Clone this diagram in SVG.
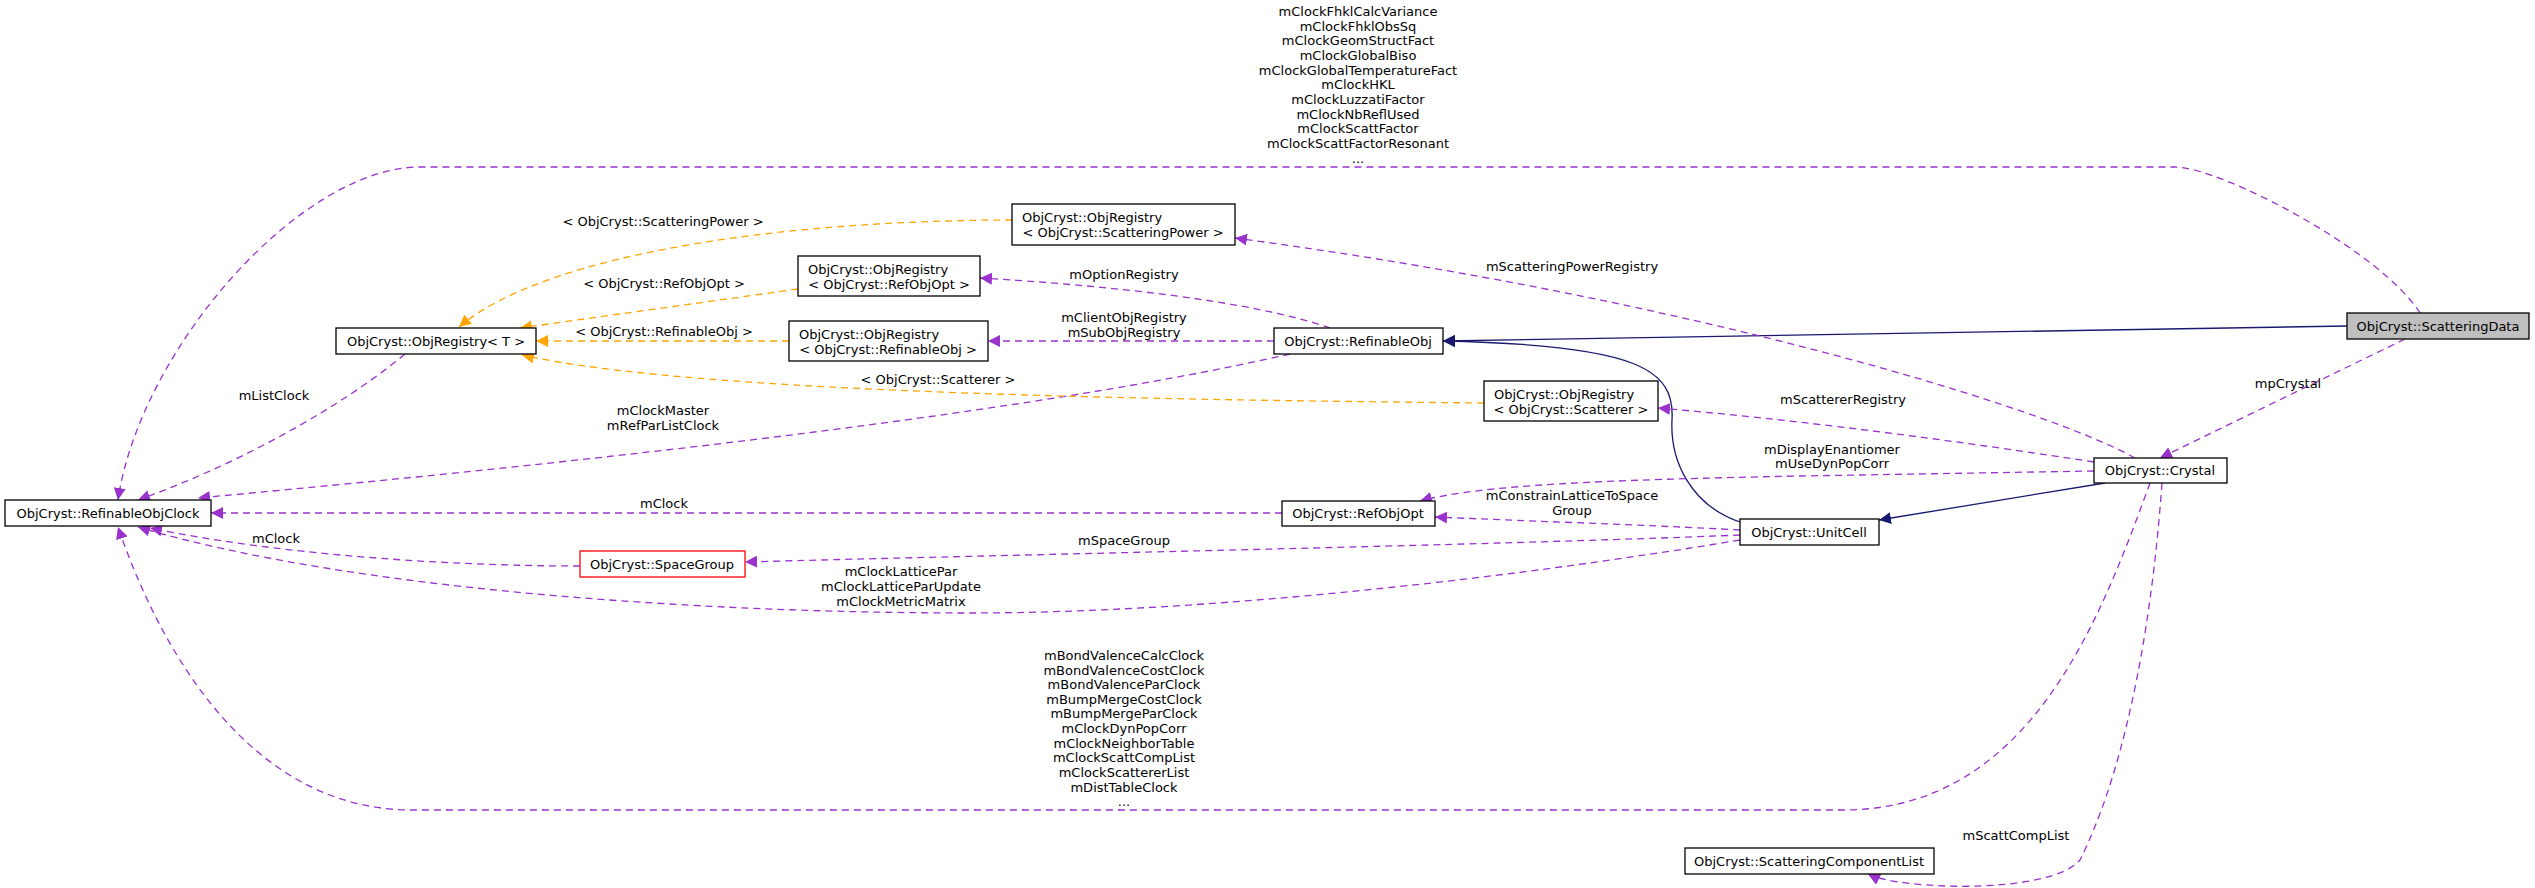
<svg xmlns="http://www.w3.org/2000/svg" width="2535" height="888" viewBox="0 0 2535 888">
<style>
text{font-family:"DejaVu Sans","Liberation Sans",sans-serif;font-size:13px;text-anchor:middle;fill:#000}
.n rect{fill:#fff;stroke:#000;stroke-width:1.3}
.p{fill:none;stroke:#9a32cd;stroke-width:1.3;stroke-dasharray:7,5;marker-end:url(#ap)}
.o{fill:none;stroke:#ffa500;stroke-width:1.3;stroke-dasharray:7,5;marker-end:url(#ao)}
.i{fill:none;stroke:#191970;stroke-width:1.3;marker-end:url(#ai)}
</style>
<defs>
<marker id="ap" viewBox="0 0 10 10" refX="10" refY="5" markerWidth="12" markerHeight="12" markerUnits="userSpaceOnUse" orient="auto"><path d="M0,0L10,5L0,10z" fill="#9a32cd"/></marker>
<marker id="ao" viewBox="0 0 10 10" refX="10" refY="5" markerWidth="12" markerHeight="12" markerUnits="userSpaceOnUse" orient="auto"><path d="M0,0L10,5L0,10z" fill="#ffa500"/></marker>
<marker id="ai" viewBox="0 0 10 10" refX="10" refY="5" markerWidth="12" markerHeight="12" markerUnits="userSpaceOnUse" orient="auto"><path d="M0,0L10,5L0,10z" fill="#191970"/></marker>
</defs>
<rect width="2535" height="888" fill="#fff"/>
<g id="connectors">
<path class="p" d="M2420,313 C2380,250 2220,167 2175,167 L420,167 C300,167 140,350 118,500"/>
<path class="p" d="M2405,339 L2160,458"/>
<path class="i" d="M2347,326 L1443,341"/>
<path class="i" d="M2105,483 L1879,520"/>
<path class="i" d="M1740,522 C1690,505 1670,460 1672,420 C1675,370 1640,345 1443,341"/>
<path class="p" d="M2135,458 C2050,410 1700,300 1235,238"/>
<path class="p" d="M2094,462 C1950,440 1800,420 1658,408"/>
<path class="p" d="M2094,471 L1800,476 C1600,480 1480,485 1420,501"/>
<path class="p" d="M2150,483 C2100,620 2030,810 1843,810 L412,810 C250,810 160,650 118,527"/>
<path class="p" d="M2162,483 C2150,650 2120,780 2080,860 C2050,895 1900,890 1868,874"/>
<path class="p" d="M1740,530 C1650,525 1500,520 1435,517"/>
<path class="p" d="M1740,535 C1500,545 1000,555 745,562"/>
<path class="p" d="M1740,540 C1500,580 1200,613 970,613 C700,613 350,590 138,527"/>
<path class="p" d="M580,566 C450,566 280,555 150,528"/>
<path class="p" d="M1282,513 L211,513"/>
<path class="p" d="M1290,354 C1000,420 500,470 198,498"/>
<path class="p" d="M1330,328 C1250,300 1100,285 980,278"/>
<path class="p" d="M1274,341 L988,341"/>
<path class="p" d="M405,354 C350,400 250,460 138,500"/>
<path class="o" d="M1012,220 C800,220 550,250 459,327"/>
<path class="o" d="M798,289 L520,328"/>
<path class="o" d="M789,341 L536,341"/>
<path class="o" d="M1484,403 C1200,400 700,395 522,355"/>
</g>
<g id="labels">
<text x="1358" y="16">mClockFhklCalcVariance</text>
<text x="1358" y="31">mClockFhklObsSq</text>
<text x="1358" y="45">mClockGeomStructFact</text>
<text x="1358" y="60">mClockGlobalBiso</text>
<text x="1358" y="75">mClockGlobalTemperatureFact</text>
<text x="1358" y="89">mClockHKL</text>
<text x="1358" y="104">mClockLuzzatiFactor</text>
<text x="1358" y="119">mClockNbReflUsed</text>
<text x="1358" y="133">mClockScattFactor</text>
<text x="1358" y="148">mClockScattFactorResonant</text>
<text x="1358" y="163">...</text>
<text x="2288" y="388">mpCrystal</text>
<text x="1572" y="271">mScatteringPowerRegistry</text>
<text x="1124" y="279">mOptionRegistry</text>
<text x="1124" y="322">mClientObjRegistry</text>
<text x="1124" y="337">mSubObjRegistry</text>
<text x="1843" y="404">mScattererRegistry</text>
<text x="1832" y="454">mDisplayEnantiomer</text>
<text x="1832" y="468">mUseDynPopCorr</text>
<text x="1572" y="500">mConstrainLatticeToSpace</text>
<text x="1572" y="515">Group</text>
<text x="1124" y="545">mSpaceGroup</text>
<text x="901" y="576">mClockLatticePar</text>
<text x="901" y="591">mClockLatticeParUpdate</text>
<text x="901" y="606">mClockMetricMatrix</text>
<text x="274" y="400">mListClock</text>
<text x="663" y="415">mClockMaster</text>
<text x="663" y="430">mRefParListClock</text>
<text x="664" y="508">mClock</text>
<text x="276" y="543">mClock</text>
<text x="663" y="226">&lt; ObjCryst::ScatteringPower &gt;</text>
<text x="664" y="288">&lt; ObjCryst::RefObjOpt &gt;</text>
<text x="664" y="336">&lt; ObjCryst::RefinableObj &gt;</text>
<text x="938" y="384">&lt; ObjCryst::Scatterer &gt;</text>
<text x="1124" y="660">mBondValenceCalcClock</text>
<text x="1124" y="675">mBondValenceCostClock</text>
<text x="1124" y="689">mBondValenceParClock</text>
<text x="1124" y="704">mBumpMergeCostClock</text>
<text x="1124" y="718">mBumpMergeParClock</text>
<text x="1124" y="733">mClockDynPopCorr</text>
<text x="1124" y="748">mClockNeighborTable</text>
<text x="1124" y="762">mClockScattCompList</text>
<text x="1124" y="777">mClockScattererList</text>
<text x="1124" y="792">mDistTableClock</text>
<text x="1124" y="806">...</text>
<text x="2016" y="840">mScattCompList</text>
</g>
<g id="ScatteringData" class="n"><rect x="2347" y="313" width="182" height="26" style="fill:#bfbfbf"/><text x="2438" y="331">ObjCryst::ScatteringData</text></g>
<g id="Crystal" class="n"><rect x="2094" y="458" width="133" height="25"/><text x="2160" y="475">ObjCryst::Crystal</text></g>
<g id="UnitCell" class="n"><rect x="1740" y="519" width="139" height="26"/><text x="1809" y="537">ObjCryst::UnitCell</text></g>
<g id="RefinableObj" class="n"><rect x="1274" y="328" width="169" height="26"/><text x="1358" y="346">ObjCryst::RefinableObj</text></g>
<g id="RefObjOpt" class="n"><rect x="1282" y="501" width="153" height="25"/><text x="1358" y="518">ObjCryst::RefObjOpt</text></g>
<g id="SpaceGroup" class="n"><rect x="580" y="551" width="165" height="26" style="stroke:#ff0000"/><text x="662" y="569">ObjCryst::SpaceGroup</text></g>
<g id="RefinableObjClock" class="n"><rect x="5" y="500" width="206" height="26"/><text x="108" y="518">ObjCryst::RefinableObjClock</text></g>
<g id="ObjRegistryT" class="n"><rect x="336" y="328" width="200" height="26"/><text x="436" y="346">ObjCryst::ObjRegistry&lt; T &gt;</text></g>
<g id="ObjRegistrySP" class="n"><rect x="1012" y="204" width="223" height="41"/><text x="1022" y="222" style="text-anchor:start">ObjCryst::ObjRegistry</text><text x="1123" y="237">&lt; ObjCryst::ScatteringPower &gt;</text></g>
<g id="ObjRegistryROO" class="n"><rect x="798" y="256" width="182" height="40"/><text x="808" y="274" style="text-anchor:start">ObjCryst::ObjRegistry</text><text x="889" y="289">&lt; ObjCryst::RefObjOpt &gt;</text></g>
<g id="ObjRegistryRO" class="n"><rect x="789" y="321" width="199" height="40"/><text x="799" y="339" style="text-anchor:start">ObjCryst::ObjRegistry</text><text x="888" y="354">&lt; ObjCryst::RefinableObj &gt;</text></g>
<g id="ObjRegistrySc" class="n"><rect x="1484" y="381" width="174" height="40"/><text x="1494" y="399" style="text-anchor:start">ObjCryst::ObjRegistry</text><text x="1571" y="414">&lt; ObjCryst::Scatterer &gt;</text></g>
<g id="ScatteringComponentList" class="n"><rect x="1685" y="848" width="249" height="26"/><text x="1809" y="866">ObjCryst::ScatteringComponentList</text></g>
</svg>
